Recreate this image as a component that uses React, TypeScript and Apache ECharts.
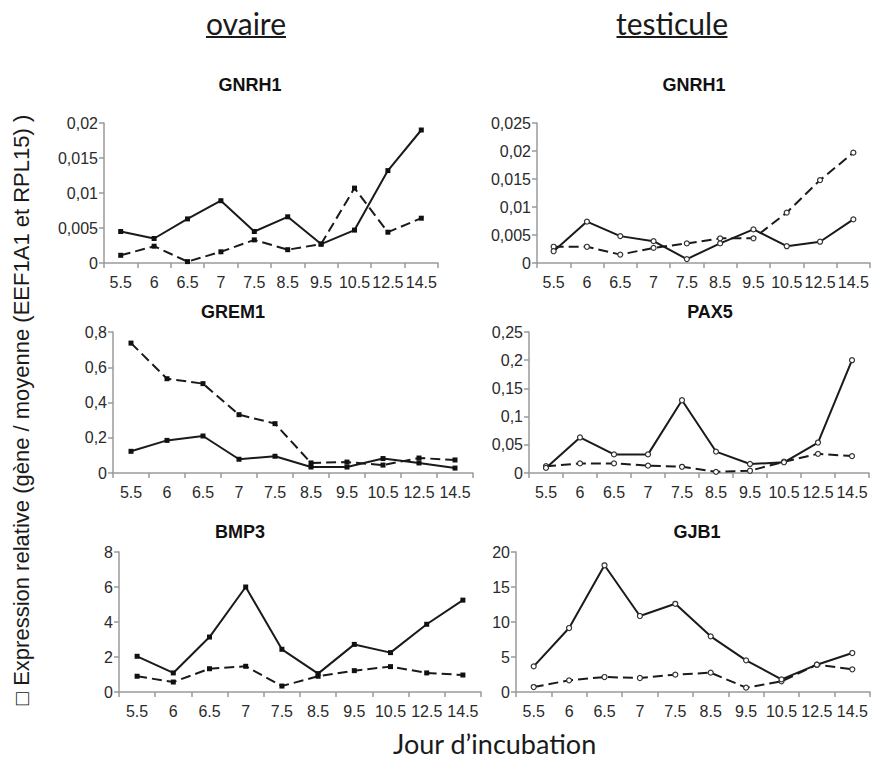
import React, { useEffect, useRef } from "react";
import * as echarts from "echarts";

const days = ["5.5", "6", "6.5", "7", "7.5", "8.5", "9.5", "10.5", "12.5", "14.5"];

const ovaGnrh1Solid = [0.0045, 0.0035, 0.0063, 0.0089, 0.0045, 0.0066, 0.0027, 0.0047, 0.0132, 0.019];
const ovaGnrh1Dash = [0.0011, 0.0024, 0.0002, 0.0016, 0.0033, 0.0019, 0.0027, 0.0107, 0.0044, 0.0064];
const tesGnrh1Solid = [0.0021, 0.0074, 0.0048, 0.0039, 0.0007, 0.0035, 0.006, 0.003, 0.0038, 0.0078];
const tesGnrh1Dash = [0.0029, 0.0029, 0.0015, 0.0027, 0.0035, 0.0044, 0.0044, 0.009, 0.0148, 0.0197];
const ovaGrem1Solid = [0.123, 0.185, 0.21, 0.078, 0.095, 0.034, 0.034, 0.082, 0.057, 0.028];
const ovaGrem1Dash = [0.737, 0.535, 0.507, 0.331, 0.28, 0.057, 0.062, 0.045, 0.085, 0.074];
const tesPax5Solid = [0.009, 0.063, 0.033, 0.033, 0.129, 0.038, 0.016, 0.019, 0.054, 0.2];
const tesPax5Dash = [0.012, 0.017, 0.017, 0.013, 0.011, 0.002, 0.004, 0.02, 0.034, 0.03];
const ovaBmp3Solid = [2.04, 1.09, 3.14, 6.0, 2.44, 1.05, 2.72, 2.25, 3.87, 5.25];
const ovaBmp3Dash = [0.9, 0.57, 1.33, 1.47, 0.34, 0.9, 1.22, 1.45, 1.09, 0.97];
const tesGjb1Solid = [3.67, 9.14, 18.1, 10.86, 12.6, 7.95, 4.52, 1.81, 3.9, 5.57];
const tesGjb1Dash = [0.71, 1.67, 2.14, 2.0, 2.48, 2.76, 0.62, 1.52, 3.9, 3.24];

const panelTitles = ["GNRH1", "GNRH1", "GREM1", "PAX5", "BMP3", "GJB1"];
const yMax = [0.02, 0.025, 0.8, 0.25, 8, 20];
const yStep = [0.005, 0.005, 0.2, 0.05, 2, 5];
const headers = ["ovaire", "testicule"];
const xTitle = "Jour d’incubation";
const yTitle = "□ Expression relative (gène / moyenne (EEF1A1 et RPL15) )";

const SANS = "Arial";

export default function App() {
  const ref = useRef<HTMLDivElement>(null);
  useEffect(() => {
    if (!ref.current) return;
    const chart = echarts.init(ref.current, undefined, { renderer: "svg" });

    const grids = [
      { left: 104, top: 123, width: 334, height: 140 },
      { left: 537, top: 123, width: 333, height: 140 },
      { left: 113, top: 332, width: 360, height: 141 },
      { left: 529, top: 332, width: 340, height: 141 },
      { left: 119, top: 552, width: 362, height: 140 },
      { left: 516, top: 552, width: 354, height: 140 },
    ];
    const titlePos = [
      [250, 85],
      [694, 85],
      [233, 312],
      [710, 312],
      [240, 532],
      [697, 532],
    ];
    const solid = [ovaGnrh1Solid, tesGnrh1Solid, ovaGrem1Solid, tesPax5Solid, ovaBmp3Solid, tesGjb1Solid];
    const dash = [ovaGnrh1Dash, tesGnrh1Dash, ovaGrem1Dash, tesPax5Dash, ovaBmp3Dash, tesGjb1Dash];

    const fmt = (v: number) => String(+v.toFixed(6)).replace(".", ",");
    const axisGray = "#9a9a9a";
    const textColor = "#2a2a2a";

    const xAxis = grids.map((_, i) => ({
      type: "category",
      gridIndex: i,
      data: days,
      boundaryGap: true,
      axisLine: { show: true, lineStyle: { color: axisGray, width: 1.5 } },
      axisTick: { show: true, inside: false, length: 5, interval: 0, lineStyle: { color: axisGray, width: 1.5 } },
      axisLabel: {
        interval: 0,
        hideOverlap: false,
        margin: 11,
        fontSize: 16,
        color: textColor,
        fontFamily: SANS,
      },
      splitLine: { show: false },
    }));

    const yAxis = grids.map((_, i) => ({
      type: "value",
      gridIndex: i,
      min: 0,
      max: yMax[i],
      interval: yStep[i],
      axisLine: { show: true, lineStyle: { color: axisGray, width: 1.5 } },
      axisTick: { show: true, inside: false, length: 5, lineStyle: { color: axisGray, width: 1.5 } },
      axisLabel: {
        margin: 6,
        fontSize: 16,
        color: textColor,
        fontFamily: SANS,
        formatter: fmt,
      },
      splitLine: { show: false },
    }));

    const series: any[] = [];
    grids.forEach((_, i) => {
      const right = i % 2 === 1;
      const sym = right ? "circle" : "rect";
      const itemStyle = right
        ? { color: "#ffffff", borderColor: "#333", borderWidth: 1.2 }
        : { color: "#111", borderColor: "#111", borderWidth: 0 };
      series.push({
        type: "line",
        name: "solid" + i,
        xAxisIndex: i,
        yAxisIndex: i,
        data: solid[i],
        symbol: sym,
        symbolSize: 5,
        showSymbol: true,
        lineStyle: { color: "#1a1a1a", width: 2, type: "solid" },
        itemStyle,
        z: 3,
      });
      series.push({
        type: "line",
        name: "dash" + i,
        xAxisIndex: i,
        yAxisIndex: i,
        data: dash[i],
        symbol: sym,
        symbolSize: 5,
        showSymbol: true,
        lineStyle: { color: "#1a1a1a", width: 2, type: [10, 5] },
        itemStyle,
        z: 2,
      });
    });

    const graphic: any[] = [];
    panelTitles.forEach((t, i) => {
      graphic.push({
        type: "text",
        x: titlePos[i][0],
        y: titlePos[i][1],
        style: {
          text: t,
          fontSize: 18,
          fontWeight: "bold",
          fontFamily: SANS,
          fill: "#111",
          textAlign: "center",
          textVerticalAlign: "middle",
        },
      });
    });
    const headerX = [246, 672];
    const headerW = [80, 111];
    headers.forEach((h, i) => {
      graphic.push({
        type: "text",
        x: headerX[i],
        y: 23,
        style: {
          text: h,
          fontSize: 30,
          fontFamily: "Lato",
          fill: "#1a1a1a",
          textAlign: "center",
          textVerticalAlign: "middle",
        },
      });
      graphic.push({
        type: "line",
        shape: { x1: headerX[i] - headerW[i] / 2, y1: 37, x2: headerX[i] + headerW[i] / 2, y2: 37 },
        style: { stroke: "#1a1a1a", lineWidth: 2 },
      });
    });
    graphic.push({
      type: "text",
      x: 393,
      y: 743,
      style: {
        text: xTitle,
        fontSize: 27,
        fontFamily: "Lato",
        fill: "#1a1a1a",
        textAlign: "left",
        textVerticalAlign: "middle",
      },
    });
    graphic.push({
      type: "text",
      x: 21,
      y: 410,
      rotation: Math.PI / 2,
      style: {
        text: yTitle,
        fontSize: 22,
        fontFamily: SANS,
        fill: "#1a1a1a",
        textAlign: "center",
        textVerticalAlign: "middle",
      },
    });

    chart.setOption({
      animation: false,
      backgroundColor: "#ffffff",
      grid: grids.map((g) => ({ ...g, containLabel: false })),
      xAxis,
      yAxis,
      series,
      graphic,
    });
    return () => chart.dispose();
  }, []);

  return (
    <div
      ref={ref}
      style={{ position: "fixed", left: 0, top: 0, width: 872, height: 760, background: "#fff" }}
    />
  );
}
